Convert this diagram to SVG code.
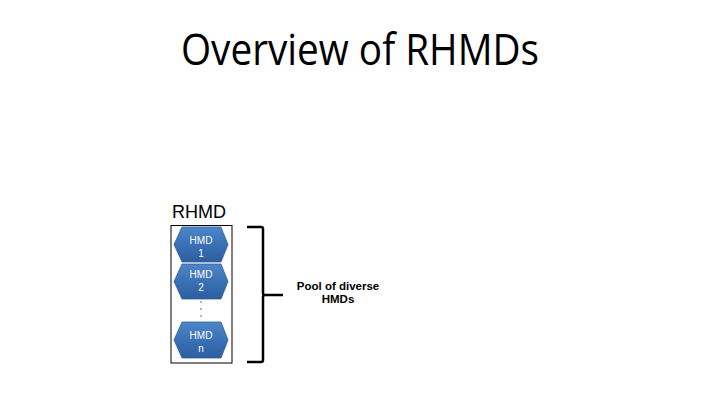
<svg xmlns="http://www.w3.org/2000/svg" width="720" height="405" viewBox="0 0 720 405">
<defs>
<linearGradient id="hg" x1="0" y1="0" x2="0" y2="1">
<stop offset="0" stop-color="#4f86c9"/>
<stop offset="0.5" stop-color="#3a70b5"/>
<stop offset="1" stop-color="#2c5f9f"/>
</linearGradient>
</defs>
<style>
.hex{fill:url(#hg);stroke:#2e5f9a;stroke-width:0.8}
.ht{font-family:"Liberation Sans",Arial,sans-serif;font-size:10px;fill:#fff;text-anchor:middle}
.br{fill:none;stroke:#000;stroke-width:2.5}
</style>
<rect width="720" height="405" fill="#fff"/>
<text x="360" y="65" font-family="'Open Sans','Liberation Sans',sans-serif" font-size="44" text-anchor="middle" textLength="358" lengthAdjust="spacingAndGlyphs">Overview of RHMDs</text>
<g id="rhmd">
<text x="172" y="218" font-family="'Liberation Sans',Arial,sans-serif" font-size="18">RHMD</text>
<rect x="171" y="225.5" width="61" height="137.5" fill="#fff" stroke="#000" stroke-width="1"/>
</g>
<g id="hmd1">
<polygon class="hex" points="182,227 221,227 228,244.5 221,262 182,262 174,244.5"/>
<text class="ht" x="201" y="244">HMD</text>
<text class="ht" x="201" y="257">1</text>
</g>
<g id="hmd2">
<polygon class="hex" points="182,264 221,264 228,281.5 221,299 182,299 174,281.5"/>
<text class="ht" x="201" y="278">HMD</text>
<text class="ht" x="201" y="291">2</text>
</g>
<g id="dots" fill="#333">
<circle cx="201" cy="302" r="0.7"/>
<circle cx="201" cy="309" r="0.7"/>
<circle cx="201" cy="316" r="0.7"/>
</g>
<g id="hmdn">
<polygon class="hex" points="182,322 221,322 228,340 221,358 182,358 174,340"/>
<text class="ht" x="201" y="339">HMD</text>
<text class="ht" x="201" y="352">n</text>
</g>
<g id="connectors">
<path class="br" d="M247,227 H261 Q263,227 263,229 V293 Q263,295 265,295 H283 M265,295 Q263,295 263,297 V360 Q263,362 261,362 H247"/>
</g>
<g id="pool">
<text x="338" y="290" font-family="'Liberation Sans',Arial,sans-serif" font-size="11.5" font-weight="bold" text-anchor="middle">Pool of diverse</text>
<text x="338" y="303" font-family="'Liberation Sans',Arial,sans-serif" font-size="11.5" font-weight="bold" text-anchor="middle">HMDs</text>
</g>
</svg>
